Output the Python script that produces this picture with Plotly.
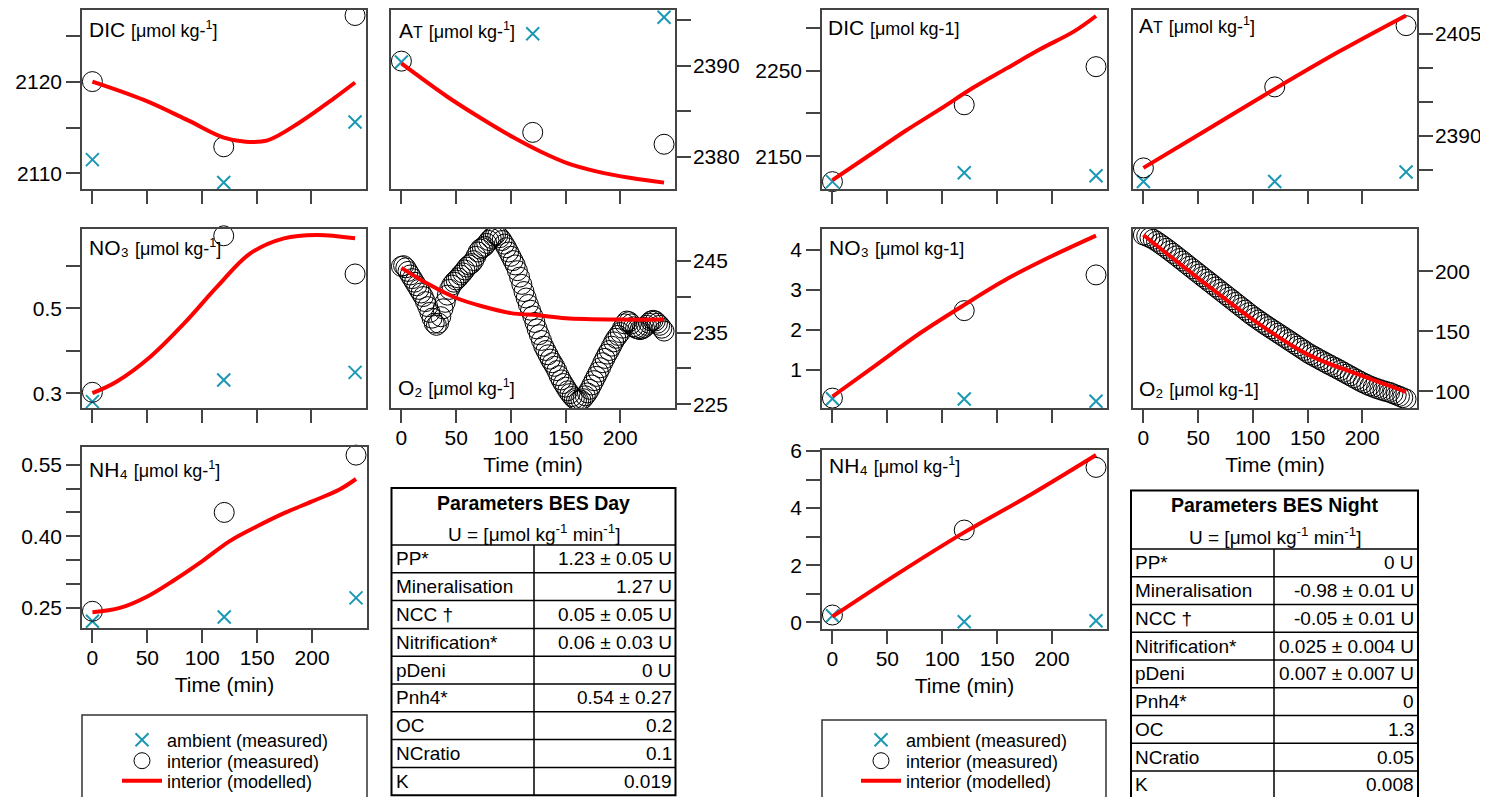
import plotly.graph_objects as go

W, H = 1488, 797
OFF = 8  # browser body margin
FONT = "Arial, 'Liberation Sans', Helvetica, sans-serif"
TEAL = "#1b98b3"
RED = "#ff0000"
AX = "#444444"

# ---------------- data ----------------
t_samples = [0, 120, 240]

# Day (BES Day)
day_dic_ambient = [2111.5, 2109.0, 2115.6]
day_dic_interior = [2120.0, 2112.9, 2127.2]
day_dic_model_t = [0, 47, 87, 120, 140, 160, 190, 221, 240]
day_dic_model = [2120.0, 2118.0, 2115.8, 2113.9, 2113.45, 2113.6, 2115.6, 2118.2, 2119.9]

day_at_ambient = [2390.4, 2393.5, 2395.3]
day_at_interior = [2390.5, 2382.7, 2381.4]
day_at_model_t = [0, 42, 72, 103, 127, 152, 179, 210, 240]
day_at_model = [2390.25, 2386.6, 2384.3, 2382.1, 2380.6, 2379.3, 2378.4, 2377.7, 2377.2]

day_no3_ambient = [0.280, 0.331, 0.349]
day_no3_interior = [0.302, 0.671, 0.581]
day_no3_model_t = [0, 22, 53, 84, 114, 144, 175, 205, 240]
day_no3_model = [0.300, 0.327, 0.386, 0.465, 0.551, 0.629, 0.665, 0.673, 0.665]

day_nh4_ambient = [0.222, 0.231, 0.271]
day_nh4_interior = [0.243, 0.450, 0.570]
day_nh4_model_t = [0, 25, 50, 75, 100, 125, 150, 175, 200, 225, 240]
day_nh4_model = [0.241, 0.250, 0.274, 0.309, 0.348, 0.390, 0.421, 0.449, 0.473, 0.498, 0.520]

day_o2_t = [0, 2, 4, 6, 8, 10, 12, 14, 16, 18, 20, 22, 24, 26, 28, 30, 32, 34, 36, 38,
            40, 42, 44, 46, 48, 50, 52, 54, 56, 58, 60, 62, 64, 66, 68, 70, 72, 74, 76, 78,
            80, 82, 84, 86, 88, 90, 92, 94, 96, 98, 100, 102, 104, 106, 108, 110, 112, 114,
            116, 118, 120, 122, 124, 126, 128, 130, 132, 134, 136, 138, 140, 142, 144, 146,
            148, 150, 152, 154, 156, 158, 160, 162, 164, 166, 168, 170, 172, 174, 176, 178,
            180, 182, 184, 186, 188, 190, 192, 194, 196, 198, 200, 202, 204, 206, 208, 210,
            212, 214, 216, 218, 220, 222, 224, 226, 228, 230, 232, 234, 236, 238, 240]
day_o2_interior = [244.2, 244.3, 244.0, 243.5, 243.0, 242.5, 242.0, 241.5, 241.0, 240.5,
                   240.0, 239.3, 238.6, 237.8, 237.0, 236.3, 236.0, 236.3, 237.2, 238.3,
                   239.2, 240.2, 241.0, 241.6, 242.0, 242.3, 242.6, 243.0, 243.3, 243.7,
                   244.1, 244.4, 244.6, 245.0, 245.6, 246.2, 246.6, 246.8, 247.0, 247.4,
                   247.8, 248.1, 248.4, 248.6, 248.5, 248.2, 247.8, 247.3, 246.8, 246.2,
                   245.6, 245.0, 244.4, 243.6, 242.7, 241.7, 240.7, 239.8, 238.9, 238.1,
                   237.3, 236.4, 235.5, 234.7, 233.9, 233.1, 232.5, 231.9, 231.3, 230.8,
                   230.3, 229.7, 229.0, 228.4, 227.9, 227.4, 226.9, 226.5, 226.1, 225.8,
                   225.6, 225.5, 225.6, 225.8, 226.2, 226.6, 227.1, 227.7, 228.3, 228.9,
                   229.5, 230.1, 230.8, 231.4, 232.0, 232.5, 233.1, 233.7, 234.2, 234.6,
                   235.0, 235.6, 236.2, 236.6, 236.5, 236.2, 235.8, 235.6, 235.5, 235.4,
                   235.5, 235.7, 236.0, 236.3, 236.6, 236.7, 236.6, 236.3, 236.0, 235.6, 235.2]
day_o2_model_t = [0, 25, 50, 75, 100, 125, 150, 200, 240]
day_o2_model = [244.0, 241.7, 239.8, 238.6, 237.7, 237.4, 237.0, 236.8, 236.8]

# Night (BES Night)
night_dic_ambient = [2120.2, 2130.6, 2127.1]
night_dic_interior = [2120.2, 2210.1, 2254.7]
night_dic_model_t = [0, 37, 67, 98, 128, 159, 189, 220, 240]
night_dic_model = [2122, 2154, 2180, 2205, 2230, 2253, 2275, 2296, 2314]

night_at_ambient = [2383.3, 2383.3, 2384.7]
night_at_interior = [2385.3, 2397.2, 2406.2]
night_at_model_t = [0, 60, 120, 180, 240]
night_at_model = [2385.3, 2391.1, 2396.9, 2402.5, 2407.7]

night_no3_ambient = [0.275, 0.267, 0.21]
night_no3_interior = [0.29, 2.48, 3.375]
night_no3_model_t = [0, 40, 80, 120, 160, 200, 240]
night_no3_model = [0.33, 1.125, 1.92, 2.625, 3.29, 3.85, 4.36]

night_nh4_ambient = [0.233, 0.023, 0.058]
night_nh4_interior = [0.257, 3.232, 5.426]
night_nh4_model_t = [0, 60, 120, 180, 240]
night_nh4_model = [0.2, 1.715, 3.15, 4.46, 5.86]

night_o2_t = [0, 3, 6, 9, 12, 15, 18, 21, 24, 27, 30, 33, 36, 39, 42, 45, 48, 51, 54, 57,
              60, 63, 66, 69, 72, 75, 78, 81, 84, 87, 90, 93, 96, 99, 102, 105, 108, 111,
              114, 117, 120, 123, 126, 129, 132, 135, 138, 141, 144, 147, 150, 153, 156,
              159, 162, 165, 168, 171, 174, 177, 180, 183, 186, 189, 192, 195, 198, 201,
              204, 207, 210, 213, 216, 219, 222, 225, 228, 231, 234, 237, 240]
night_o2_interior = [230.4, 229.4, 228.2, 226.8, 225.1, 223.2, 221.3, 219.3, 217.2, 215.1,
                     213.0, 210.8, 208.7, 206.5, 204.3, 202.2, 200.0, 197.9, 195.7, 193.6,
                     191.4, 189.3, 187.1, 185.0, 182.8, 180.7, 178.5, 176.4, 174.2, 172.1,
                     169.9, 167.8, 165.6, 163.5, 161.5, 159.6, 157.7, 155.8, 154.0, 152.2,
                     150.4, 148.6, 146.8, 145.0, 143.2, 141.4, 139.6, 137.8, 136.0, 134.2,
                     132.3, 130.7, 129.2, 127.7, 126.2, 124.7, 123.2, 121.8, 120.4, 119.0,
                     117.5, 116.0, 114.5, 113.0, 111.5, 110.0, 108.5, 107.1, 105.8, 104.6,
                     103.5, 102.5, 101.6, 100.7, 99.9, 99.2, 98.1, 97.0, 95.9, 94.8, 93.6]
night_o2_model_t = [0, 50, 100, 150, 200, 240]
night_o2_model = [230.4, 194.5, 159.9, 130.9, 113.0, 99.7]

# Tables
table_labels = ["PP*", "Mineralisation", "NCC †", "Nitrification*", "pDeni", "Pnh4*", "OC", "NCratio", "K"]
day_table_values = ["1.23 ± 0.05 U", "1.27 U", "0.05 ± 0.05 U", "0.06 ± 0.03 U", "0 U",
                    "0.54 ± 0.27", "0.2", "0.1", "0.019"]
night_table_values = ["0 U", "-0.98 ± 0.01 U", "-0.05 ± 0.01 U", "0.025 ± 0.004 U",
                      "0.007 ± 0.007 U", "0", "1.3", "0.05", "0.008"]

legend_names = ["ambient (measured)", "interior (measured)", "interior (modelled)"]
x_tickvals = [0, 50, 100, 150, 200]

# ---------------- layout helpers ----------------
def px_x(x):
    return (x - OFF) / W

def px_y(y):
    return 1 - (y - OFF) / H

UNIT = "<span style='font-size:18px'>[μmol kg-<sup>1</sup>]</span>"
UNIT_FLAT = "<span style='font-size:18px'>[μmol kg-1]</span>"
T_SC = "A<span style='font-size:16px'>T</span> "

panels = [
    # day
    dict(box=(82, 366, 10, 189), side="left", yr=[2108.3, 2127.8], tv=[2110, 2115, 2120, 2125],
         tt=["2110", "", "2120", ""], xl=False, label="DIC " + UNIT, lab=(87, 29),
         amb=day_dic_ambient, intr=day_dic_interior, mt=day_dic_model_t, mv=day_dic_model,
         legs=["legend", "legend2", "legend3"]),
    dict(box=(391, 675, 10, 189), side="right", yr=[2376.5, 2396.1], tv=[2380, 2385, 2390, 2395],
         tt=["2380", "", "2390", ""], xl=False, label=T_SC + UNIT, lab=(397, 30),
         amb=day_at_ambient, intr=day_at_interior, mt=day_at_model_t, mv=day_at_model),
    dict(box=(82, 366, 229, 408), side="left", yr=[0.265, 0.687], tv=[0.3, 0.4, 0.5, 0.6],
         tt=["0.3", "", "0.5", ""], xl=False, label="NO₃ " + UNIT, lab=(87, 248),
         amb=day_no3_ambient, intr=day_no3_interior, mt=day_no3_model_t, mv=day_no3_model),
    dict(box=(391, 675, 229, 408), side="right", yr=[224.5, 249.4], tv=[225, 230, 235, 240, 245],
         tt=["225", "", "235", "", "245"], xl=True, label="O₂ " + UNIT, lab=(396, 387),
         o2t=day_o2_t, intr=day_o2_interior, mt=day_o2_model_t, mv=day_o2_model),
    dict(box=(82, 367, 447, 628), side="left", yr=[0.208, 0.587],
         tv=[0.25, 0.30, 0.35, 0.40, 0.45, 0.50, 0.55], tt=["0.25", "", "", "0.40", "", "", "0.55"],
         xl=True, label="NH₄ " + UNIT, lab=(87, 469),
         amb=day_nh4_ambient, intr=day_nh4_interior, mt=day_nh4_model_t, mv=day_nh4_model),
    # night
    dict(box=(822, 1107, 10, 189), side="left", yr=[2111.6, 2321.0], tv=[2150, 2200, 2250, 2300],
         tt=["2150", "", "2250", ""], xl=False, label="DIC " + UNIT_FLAT, lab=(826, 27),
         amb=night_dic_ambient, intr=night_dic_interior, mt=night_dic_model_t, mv=night_dic_model,
         legs=["legend4", "legend5", "legend6"]),
    dict(box=(1133, 1417, 10, 189), side="right", yr=[2382.2, 2408.5],
         tv=[2385, 2390, 2395, 2400, 2405], tt=["", "2390", "", "", "2405"], xl=False,
         label=T_SC + UNIT, lab=(1137, 26),
         amb=night_at_ambient, intr=night_at_interior, mt=night_at_model_t, mv=night_at_model),
    dict(box=(822, 1107, 229, 408), side="left", yr=[0.042, 4.525], tv=[1, 2, 3, 4],
         tt=["1", "2", "3", "4"], xl=False, label="NO₃ " + UNIT_FLAT, lab=(827, 247),
         amb=night_no3_ambient, intr=night_no3_interior, mt=night_no3_model_t, mv=night_no3_model),
    dict(box=(1133, 1417, 229, 408), side="right", yr=[86.2, 235.4], tv=[100, 150, 200],
         tt=["100", "150", "200"], xl=True, label="O₂ " + UNIT_FLAT, lab=(1137, 388),
         o2t=night_o2_t, intr=night_o2_interior, mt=night_o2_model_t, mv=night_o2_model),
    dict(box=(822, 1107, 450, 629), side="left", yr=[-0.233, 6.035], tv=[0, 1, 2, 3, 4, 5, 6],
         tt=["0", "", "2", "", "4", "", "6"], xl=True, label="NH₄ " + UNIT, lab=(827, 466),
         amb=night_nh4_ambient, intr=night_nh4_interior, mt=night_nh4_model_t, mv=night_nh4_model),
]

fig = go.Figure()
layout = dict(
    width=W, height=H, margin=dict(l=0, r=0, t=0, b=0, autoexpand=False),
    paper_bgcolor="white", plot_bgcolor="white",
    font=dict(family=FONT, size=21, color="black"),
    showlegend=True,
)
annotations = []
shapes = []

for i, p in enumerate(panels):
    n = i + 1
    xk = "xaxis" if n == 1 else f"xaxis{n}"
    yk = "yaxis" if n == 1 else f"yaxis{n}"
    xr = "x" if n == 1 else f"x{n}"
    yr = "y" if n == 1 else f"y{n}"
    x0, x1, y0, y1 = p["box"]
    layout[xk] = dict(
        domain=[px_x(x0), px_x(x1)], anchor=yr, range=[-9.5, 250], automargin=False,
        tickvals=x_tickvals, ticks="outside", ticklen=13, tickwidth=1.5, tickcolor=AX,
        showline=True, linecolor=AX, linewidth=1.5, mirror=True,
        showgrid=False, zeroline=False, showticklabels=p["xl"], ticklabelstandoff=-3,
        tickfont=dict(size=21, family=FONT, color="black"),
    )
    if p["xl"]:
        layout[xk]["title"] = dict(text="Time (min)", font=dict(size=21, family=FONT), standoff=9)
    layout[yk] = dict(
        domain=[px_y(y1), px_y(y0)], anchor=xr, range=p["yr"], side=p["side"], automargin=False,
        tickvals=p["tv"], ticktext=p["tt"], ticks="outside", ticklen=14, tickwidth=1.5,
        tickcolor=AX, showline=True, linecolor=AX, linewidth=1.5, mirror=True,
        showgrid=False, zeroline=False, ticklabelstandoff=(-2 if p["side"] == "right" else 0),
        tickfont=dict(size=21, family=FONT, color="black"),
    )
    legs = p.get("legs")
    show = legs is not None
    if "o2t" in p:
        fig.add_trace(go.Scatter(
            x=p["o2t"], y=p["intr"], mode="markers", xaxis=xr, yaxis=yr, showlegend=False,
            marker=dict(symbol="circle-open", size=20, color="black", line=dict(width=1, color="black")),
        ))
    else:
        fig.add_trace(go.Scatter(
            x=t_samples, y=p["amb"], mode="markers", xaxis=xr, yaxis=yr, cliponaxis=False,
            name=legend_names[0], showlegend=show, **(dict(legend=legs[0]) if show else {}),
            marker=dict(symbol="x-thin", size=13, color=TEAL, line=dict(width=2, color=TEAL)),
        ))
        fig.add_trace(go.Scatter(
            x=t_samples, y=p["intr"], mode="markers", xaxis=xr, yaxis=yr, cliponaxis=False,
            name=legend_names[1], showlegend=show, **(dict(legend=legs[1]) if show else {}),
            marker=dict(symbol="circle-open", size=20, color="black", line=dict(width=1, color="black")),
        ))
    fig.add_trace(go.Scatter(
        x=p["mt"], y=p["mv"], mode="lines", xaxis=xr, yaxis=yr,
        name=legend_names[2], showlegend=show, **(dict(legend=legs[2]) if show else {}),
        line=dict(color=RED, width=4, shape="spline", smoothing=1.0),
    ))
    lx, ly = p["lab"]
    annotations.append(dict(
        x=px_x(lx), y=px_y(ly), xref="paper", yref="paper", xanchor="left", yanchor="middle",
        text=p["label"], showarrow=False, font=dict(size=21, family=FONT, color="black"),
    ))

# legends: one entry per legend so rows can sit at the reference spacing
legend_style = dict(
    xanchor="left", yanchor="middle", bgcolor="rgba(0,0,0,0)", borderwidth=0,
    font=dict(size=18, family=FONT, color="black"), itemwidth=40,
)
legend_rows = [740, 761, 781]
for k, ypx in enumerate(legend_rows):
    layout["legend" if k == 0 else f"legend{k + 1}"] = dict(x=px_x(117), y=px_y(ypx), **legend_style)
    layout[f"legend{k + 4}"] = dict(x=px_x(856), y=px_y(ypx), **legend_style)
shapes.append(dict(type="rect", xref="paper", yref="paper", x0=px_x(82), x1=px_x(367),
                   y0=px_y(805), y1=px_y(715), line=dict(color="#333", width=1.5)))
shapes.append(dict(type="rect", xref="paper", yref="paper", x0=px_x(822), x1=px_x(1106),
                   y0=px_y(805), y1=px_y(720), line=dict(color="#333", width=1.5)))

# tables
def add_table(x0, x1, xdiv, top, hb, rh, title, labels, values):
    bottom = hb + rh * len(labels)
    shapes.append(dict(type="rect", xref="paper", yref="paper", x0=px_x(x0), x1=px_x(x1),
                       y0=px_y(bottom), y1=px_y(top), line=dict(color="black", width=2)))
    for k in range(len(labels)):
        yy = hb + k * rh
        shapes.append(dict(type="line", xref="paper", yref="paper", x0=px_x(x0), x1=px_x(x1),
                           y0=px_y(yy), y1=px_y(yy), line=dict(color="black", width=1.5)))
    shapes.append(dict(type="line", xref="paper", yref="paper", x0=px_x(xdiv), x1=px_x(xdiv),
                       y0=px_y(hb), y1=px_y(bottom), line=dict(color="black", width=1.5)))
    cx = (x0 + x1) / 2
    annotations.append(dict(x=px_x(cx), y=px_y(top + 15), xref="paper", yref="paper",
                            xanchor="center", yanchor="middle", showarrow=False,
                            text=f"<b>{title}</b>", font=dict(size=19.5, family=FONT, color="black")))
    annotations.append(dict(x=px_x(cx), y=px_y(top + 45), xref="paper", yref="paper",
                            xanchor="center", yanchor="middle", showarrow=False,
                            text="U = [μmol kg<sup>-1</sup> min<sup>-1</sup>]",
                            font=dict(size=19, family=FONT, color="black")))
    for k, (lab, val) in enumerate(zip(labels, values)):
        yc = hb + (k + 0.5) * rh
        annotations.append(dict(x=px_x(x0 + 2), y=px_y(yc), xref="paper", yref="paper",
                                xanchor="left", yanchor="middle", showarrow=False, text=lab,
                                font=dict(size=19, family=FONT, color="black")))
        annotations.append(dict(x=px_x(x1 - 2), y=px_y(yc), xref="paper", yref="paper",
                                xanchor="right", yanchor="middle", showarrow=False, text=val,
                                font=dict(size=19, family=FONT, color="black")))

add_table(391.5, 675.5, 534, 488, 545, 27.8, "Parameters BES Day", table_labels, day_table_values)
add_table(1131, 1418, 1274, 490.5, 549, 27.75, "Parameters BES Night", table_labels, night_table_values)

layout["annotations"] = annotations
layout["shapes"] = shapes
fig.update_layout(**layout)
fig.write_html("out.html")
